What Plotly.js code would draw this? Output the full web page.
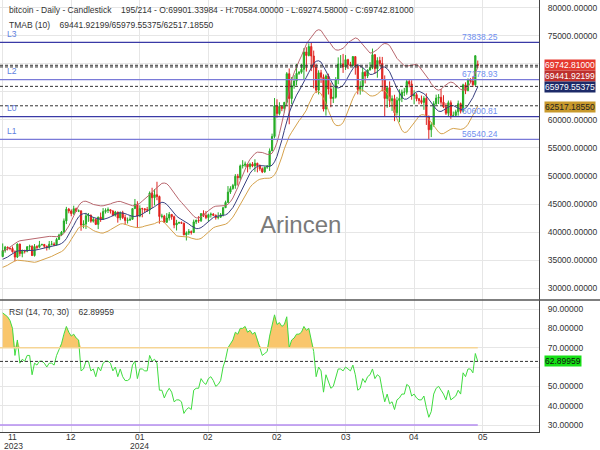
<!DOCTYPE html>
<html><head><meta charset="utf-8">
<script src="https://cdn.plot.ly/plotly-3.0.1.min.js"></script>
<style>html,body{margin:0;padding:0;background:#fff}#chart{width:600px;height:450px}</style>
</head><body><div id="chart"></div>
<script>
// ---------- data ----------
const open = [
35630,36700,37310,37130,37070,36480,35540,37860,36160,36590,
36580,37380,37460,35810,37410,37290,37720,37800,37480,37240,
37830,37860,37710,38690,39460,39970,41990,44080,43770,43290,
44170,43720,43790,41240,41450,42890,43020,41940,42260,41370,
42660,42270,43650,43860,43990,43740,43020,43580,42520,43440,
42580,42070,42140,42280,44180,44950,42850,44180,44160,43970,
43930,46970,46120,46660,46340,42780,42840,41730,42510,43150,
42740,41260,41620,41690,41580,39500,39850,40080,39930,41820,
42120,42030,43300,42950,42580,43080,43190,43000,42580,42660,
43090,44340,45290,47130,47750,48290,49960,49700,51800,51920,
52130,51660,52120,51780,52260,51850,51300,50730,51570,51730,
54480,57050,62500,61130,62390,62030,63130,68240,63800,66100,
66930,68300,68500,69020,72120,71480,73080,71400,69400,65300,
68390,67610,61930,67840,65500,63800,64040,67210,69960,69990,
69450,70740,69880,69650,71290,69650,65440,65980,68500,67830,
68900,69360,71620,69140,70590,70060,67190,63820,65740,63420,
63790,61280,63470,63820,64940,64940,66840,66410,64280,64500,
63770,63460,63120,63840,60640,58250,59120,62880,63890,64030,
63160,62330,61190,63070,60790,60810,61450,62900,61550,66250,
65230,67050,66940,66270,69901.34];
const high = [
37970,37530,37410,37230,37430,36750,37980,37930,36870,36850,
37510,37750,37650,37860,37650,38420,37890,37830,37590,38400,
38420,38170,38960,39700,40200,42420,44490,44300,44050,44700,
44360,44040,43800,42100,43430,43400,43090,42700,42430,42750,
43480,44280,44230,44390,43990,43940,43780,43600,43680,43790,
43110,42590,42900,44180,45900,45500,44770,44340,44230,44480,
47250,47900,47650,48970,46500,43260,43070,43380,43570,43200,
42930,42180,41860,41880,41680,40130,40540,40290,42220,42200,
42840,43310,43880,43740,43290,43490,43380,43120,43530,43400,
44500,45600,48200,48170,48590,50330,50370,52040,52820,52570,
52180,52370,52490,52980,52370,52050,51530,51690,51960,54920,
57550,63900,63670,63150,62430,63200,68520,69170,67640,67990,
69990,68680,70000,72800,72960,73650,73838.25,72360,70000,68850,
68930,68120,68100,68240,66650,65980,67620,71150,71560,71770,
71550,70900,70350,71370,71290,69680,66900,69290,68720,69000,
70300,72720,71740,71170,71260,71230,67930,65820,66870,64360,
64480,64110,65450,65400,65700,67230,67200,67070,65290,64790,
63920,64350,64230,64730,60780,59600,63330,64500,64600,65500,
64400,62980,63450,63470,61490,61820,63450,63100,66450,66700,
67400,67450,67700,71500,70584];
const low = [
35530,36330,36730,36750,36340,34800,35360,35680,35500,36180,
36390,36700,35730,35630,36870,37250,37600,37160,36710,36880,
37610,37500,37630,38640,39280,39980,41420,43340,42820,43080,
43580,43560,40230,40680,40550,41820,41660,41690,41250,40530,
41820,42210,43300,43400,43300,42800,42760,41680,42110,42320,
41300,41520,41970,42170,44180,40750,42640,42630,43420,43590,
43200,44300,44750,45680,41500,42440,41720,41700,42050,42200,
40680,40280,41450,41500,39430,38500,39480,39540,39820,41420,
41630,41800,42680,42300,41880,42580,42890,42220,42260,42580,
42790,44330,45250,46800,47550,47720,48300,49260,51340,51590,
50630,51180,51560,50760,50650,50930,50510,50580,51280,50900,
54450,56700,60400,60800,61560,61330,62560,59220,62800,65560,
66130,68040,68230,67190,68620,71330,68700,65630,64780,64540,
66600,61500,60760,64530,62260,63000,63800,66380,69280,68380,
68900,69060,69570,69560,68060,64550,64500,65060,66500,67460,
68820,69050,68210,67520,69560,65100,60660,62150,62300,61600,
59770,60800,59600,63170,64250,64500,65820,63600,62800,63320,
62790,62790,61800,59100,56540.24,56940,58800,62580,62830,62700,
62100,60880,60630,60190,60600.81,60630,60750,61150,61330,64600,
65120,66600,65860,66060,69274.58];
const close = [
36700,37310,37130,37070,36480,35540,37860,36160,36590,36580,
37380,37460,35810,37410,37290,37720,37800,37480,37240,37830,
37860,37710,38690,39460,39970,41990,44080,43770,43290,44170,
43720,43790,41240,41450,42890,43020,41940,42260,41370,42660,
42270,43650,43860,43990,43740,43020,43580,42520,43440,42580,
42070,42140,42280,44180,44950,42850,44180,44160,43970,43930,
46970,46120,46660,46340,42780,42840,41730,42510,43150,42740,
41260,41620,41690,41580,39500,39850,40080,39930,41820,42120,
42030,43300,42950,42580,43080,43190,43000,42580,42660,43090,
44340,45290,47130,47750,48290,49960,49700,51800,51920,52130,
51660,52120,51780,52260,51850,51300,50730,51570,51730,54480,
57050,62500,61130,62390,62030,63130,68240,63800,66100,66930,
68300,68500,69020,72120,71480,73080,71400,69400,65300,68390,
67610,61930,67840,65500,63800,64040,67210,69960,69990,69450,
70740,69880,69650,71290,69650,65440,65980,68500,67830,68900,
69360,71620,69140,70590,70060,67190,63820,65740,63420,63790,
61280,63470,63820,64940,64940,66840,66410,64280,64500,63770,
63460,63120,63840,60640,58250,59120,62880,63890,64030,63160,
62330,61190,63070,60790,60810,61450,62900,61550,66250,65230,
67050,66940,66270,71450,69742.81];
// earlier days, used only to warm up the TMA bands
const preHigh  = [33400,33600,33700,34200,34900,34480,34740,34860,34720,35580,35980,34960,35250,35400,35300,35900,36000];
const preLow   = [32800,32900,33200,33300,33500,33860,33930,34060,34080,34100,34350,34100,34560,34550,34750,34530,35140];
const preClose = [33200,33400,33700,34100,33900,34090,34540,34500,34670,35440,34940,34730,35080,35050,35040,35420,35630];
const rsi = [
88,87,86,84,80,66,74,62,64,63,
66,66,56,62,61,63,63,62,60,62,
62,61,66,69,72,77,81,78,76,77,
75,74,58,59,63,63,58,59,55,60,
58,62,63,63,62,58,60,55,59,55,
53,53,54,61,63,54,59,59,58,58,
66,63,64,62,48,48,44,47,49,47,
42,43,43,42,36,38,39,38,48,49,
49,54,52,51,54,55,53,50,51,53,
60,64,70,72,74,78,77,80,80,81,
78,79,77,78,74,71,66,67,68,76,
82,87,82,83,81,82,86,70,74,75,
77,77,78,81,79,80,74,68,55,60,
58,47,56,52,49,50,55,59,59,58,
60,59,58,61,56,48,49,54,52,55,
56,59,54,56,55,48,42,46,41,42,
38,43,44,46,46,51,50,45,46,44,
43,43,45,39,34,37,46,49,50,48,
46,43,48,43,44,45,48,46,57,55,
59,59,57,67,62.89959];
const levelNames  = ['L3','L2','L0','L1'];
const levelValues = [73838.25, 67178.93, 60600.81, 56540.24];
const tmabValues  = [69441.92199, 65979.55375, 62517.18550];
const lastClose   = 69742.81;
const rsiLast     = 62.89959;
const monthTicks  = [0,28,56,84,112,140,168,196];
const monthLabels = ['11','12','01','02','02','03','04','05'];
const yearLabels  = ['2023','','2024','','','','',''];
const priceTicks  = [30000,35000,40000,45000,50000,55000,60000,65000,70000,75000,80000];
const priceTickText = ['30000.00000','35000.00000','40000.00000','45000.00000','50000.00000','55000.00000','60000.00000','','','75000.00000','80000.00000'];
const rsiTicks    = [30,40,50,60,70,80,90];
const rsiTickText = ['30.00000','40.00000','50.00000','','70.00000','80.00000','90.00000'];

// ---------- derived indicator (TMA 10 bands) ----------
function sma(a,n){return a.map((v,i)=>{const s=Math.max(0,i-n+1);let t=0;for(let j=s;j<=i;j++)t+=a[j];return t/(i-s+1);});}
const aC=preClose.concat(close), aH=preHigh.concat(high), aL=preLow.concat(low);
const tr=aH.map((h,i)=> i===0? h-aL[0] : Math.max(h-aL[i],Math.abs(h-aC[i-1]),Math.abs(aL[i]-aC[i-1])));
const P=preClose.length;
const mid=sma(sma(aC,5),6).slice(P);
const atr=sma(sma(tr,8),8).slice(P);
const N=close.length;
const K=((tmabValues[0]-tmabValues[2])/2)/atr[N-1];
const upper=mid.map((m,i)=>m+K*atr[i]);
const lower=mid.map((m,i)=>m-K*atr[i]);
const idx=close.map((_,i)=>i);

const FONT='Liberation Sans, Arial, sans-serif';
const traces=[
 {type:'scatter',mode:'lines',x:idx,y:upper,line:{color:'#b9686f',width:1},hoverinfo:'skip'},
 {type:'scatter',mode:'lines',x:idx,y:mid,line:{color:'#394080',width:1},hoverinfo:'skip'},
 {type:'scatter',mode:'lines',x:idx,y:lower,line:{color:'#d6a24c',width:1},hoverinfo:'skip'},
 {type:'candlestick',x:idx,open:open,high:high,low:low,close:close,
  increasing:{line:{color:'#27ad27',width:1},fillcolor:'#27ad27'},
  decreasing:{line:{color:'#e0231f',width:1},fillcolor:'#e0231f'},
  whiskerwidth:0,hoverinfo:'skip'},
 // RSI panel
 {type:'scatter',mode:'lines',x:idx,y:idx.map(()=>70),xaxis:'x',yaxis:'y2',line:{width:0,color:'rgba(0,0,0,0)'},hoverinfo:'skip'},
 {type:'scatter',mode:'lines',x:idx,y:rsi.map(v=>Math.max(v,70)),xaxis:'x',yaxis:'y2',fill:'tonexty',fillcolor:'#f9c66c',line:{width:0,color:'rgba(0,0,0,0)'},hoverinfo:'skip'},
 {type:'scatter',mode:'lines',x:idx,y:rsi,xaxis:'x',yaxis:'y2',line:{color:'#3fdc3f',width:1},hoverinfo:'skip'}
];

const shapes=[];
const levelColors=['#3a3aa6','#7a7ad8','#3a3aa6','#7a7ad8'];
levelValues.forEach((v,i)=>shapes.push({type:'line',xref:'paper',x0:0,x1:1,yref:'y',y0:v,y1:v,line:{color:levelColors[i],width:1.3}}));
[lastClose].concat(tmabValues).forEach(v=>shapes.push({type:'line',xref:'paper',x0:0,x1:1,yref:'y',y0:v,y1:v,line:{color:'#333',width:1,dash:'3px,2px'}}));
shapes.push({type:'line',xref:'x',x0:-1.1,x1:N-1,yref:'y2',y0:70,y1:70,line:{color:'#f6d595',width:1.5}});
shapes.push({type:'line',xref:'x',x0:-1.1,x1:N-1,yref:'y2',y0:30,y1:30,line:{color:'#b48cf0',width:1.5}});
shapes.push({type:'line',xref:'paper',x0:0,x1:1,yref:'y2',y0:rsiLast,y1:rsiLast,line:{color:'#333',width:1,dash:'3px,2px'}});
shapes.push({type:'line',xref:'paper',x0:0,x1:600/539,yref:'paper',y0:132/432,y1:132/432,line:{color:'#555',width:1.5}});

const ann=[];
const txt=(o)=>Object.assign({showarrow:false,font:{family:FONT,size:8.5,color:'#333'}},o);
ann.push(txt({xref:'paper',yref:'paper',x:7/539,y:(432-10)/432,xanchor:'left',yanchor:'middle',
 text:'bitcoin - Daily - Candlestick\u00a0\u00a0\u00a0 195/214 - O:69901.33984 - H:70584.00000 - L:69274.58000 - C:69742.81000'}));
ann.push(txt({xref:'paper',yref:'paper',x:7/539,y:(432-25)/432,xanchor:'left',yanchor:'middle',
 text:'TMAB (10)\u00a0\u00a0\u00a0 69441.92199/65979.55375/62517.18550'}));
ann.push(txt({xref:'paper',yref:'paper',x:7/539,y:(432-311.7)/432,xanchor:'left',yanchor:'middle',
 text:'RSI (14, 70, 30)\u00a0\u00a0\u00a0 62.89959'}));
levelValues.forEach((v,i)=>{
 ann.push(txt({xref:'paper',yref:'y',x:5/539,y:v,yshift:8.7,xanchor:'left',yanchor:'middle',text:levelNames[i],font:{family:FONT,size:8.5,color:'#5f7fe0'}}));
 ann.push(txt({xref:'paper',yref:'y',x:500/539,y:v,yshift:5.6,xanchor:'right',yanchor:'middle',text:v.toFixed(2),font:{family:FONT,size:8.5,color:'#6f8ff0'}}));
});
const boxes=[
 {v:lastClose,t:'69742.81000',bg:'#e5392f',fc:'#fff',s:0.5},
 {v:tmabValues[0],t:'69441.92199',bg:'#bd302d',fc:'#fff',s:-9.5},
 {v:tmabValues[1],t:'65979.55375',bg:'#1d2a68',fc:'#fff',s:-1},
 {v:tmabValues[2],t:'62517.18550',bg:'#c8992c',fc:'#222',s:-1}];
boxes.forEach(b=>ann.push(txt({xref:'paper',yref:'y',x:544/539,y:b.v,yshift:b.s,xanchor:'left',yanchor:'middle',text:b.t,bgcolor:b.bg,borderpad:0,font:{family:FONT,size:8.5,color:b.fc}})));
ann.push(txt({xref:'paper',yref:'y2',x:544/539,y:rsiLast,xanchor:'left',yanchor:'middle',text:'62.89959',bgcolor:'#16e016',borderpad:0,font:{family:FONT,size:8.5,color:'#111'}}));
monthTicks.forEach((m,i)=>{
 ann.push(txt({xref:'x',yref:'paper',x:m,y:(432-437)/432,xshift:i===0?9.5:0,xanchor:'center',yanchor:'middle',text:monthLabels[i]}));
 if(yearLabels[i]) ann.push(txt({xref:'x',yref:'paper',x:m,y:(432-445.5)/432,xshift:i===0?-0.5:0,xanchor:i===0?'left':'center',yanchor:'middle',text:yearLabels[i]}));
});
ann.push(txt({xref:'paper',yref:'paper',x:300/539,y:(432-224)/432,xanchor:'center',yanchor:'middle',text:'Arincen',font:{family:FONT,size:24,color:'#7a7a7a'}}));

const layout={
 width:600,height:450,margin:{l:0,r:61,t:0,b:18},paper_bgcolor:'#fff',plot_bgcolor:'#fff',showlegend:false,
 font:{family:FONT,size:8.5,color:'#333'},
 xaxis:{range:[-1.1,219.0],tickvals:monthTicks,showticklabels:false,showgrid:true,gridcolor:'#e6e6e6',zeroline:false,
   showline:true,linecolor:'#444',linewidth:1,anchor:'y2',ticks:'',rangeslider:{visible:false}},
 yaxis:{domain:[132/432,1],range:[27886,81381],side:'right',tickvals:priceTicks,ticktext:priceTickText,showgrid:true,gridcolor:'#e6e6e6',
   zeroline:false,showline:true,linecolor:'#444',linewidth:1,ticks:'',ticklabelstandoff:6,tickfont:{family:FONT,size:8.5,color:'#333'},anchor:'x'},
 yaxis2:{domain:[0,132/432],range:[26.38,94.68],side:'right',tickvals:rsiTicks,ticktext:rsiTickText,showgrid:true,gridcolor:'#e6e6e6',
   zeroline:false,showline:true,linecolor:'#444',linewidth:1,ticks:'',ticklabelstandoff:6,tickfont:{family:FONT,size:8.5,color:'#333'},anchor:'x'},
 shapes:shapes,annotations:ann
};
Plotly.newPlot('chart',traces,layout,{staticPlot:true,displayModeBar:false});
</script></body></html>
